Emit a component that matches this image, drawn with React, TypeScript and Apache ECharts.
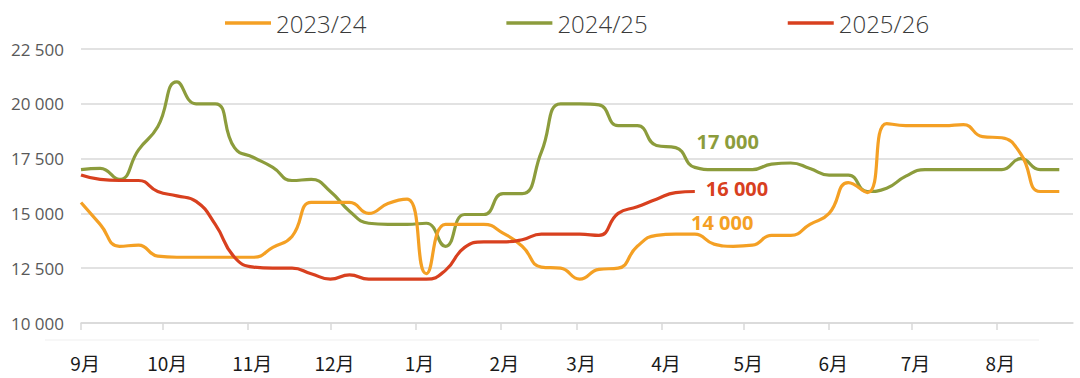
import React, { useEffect, useRef } from "react";
import * as echarts from "echarts";

// Month labels and the day offset (from 1 Sep) of each month start
const monthLabels = ["9月", "10月", "11月", "12月", "1月", "2月", "3月", "4月", "5月", "6月", "7月", "8月"];
const monthStartDays = [0, 30, 61, 91, 122, 153, 181, 212, 242, 273, 303, 334];
const axisEndDay = 362;
const weekStepDays = 7;

const seriesNames = ["2023/24", "2024/25", "2025/26"];
const seriesColors = ["#F4A024", "#8C9C3C", "#D8401F"];

// Weekly values (one point per week, starting 1 Sep)
const values2023 = [
  15500, 14500, 13500, 13550, 13050, 13000, 13000, 13000, 13000, 13000,
  13450, 13950, 15500, 15500, 15500, 15000, 15450, 15650, 12250, 14500,
  14500, 14500, 14100, 13500, 12550, 12500, 12000, 12450, 12500, 13500,
  14000, 14050, 14050, 13600, 13500, 13550, 14000, 14000, 14500, 15000,
  16400, 15950, 19100, 19000, 19000, 19000, 19050, 18500, 18450, 17700,
  16000, 16000,
];
const values2024 = [
  17000, 17050, 16550, 17900, 18950, 21000, 20000, 20000, 18000, 17550,
  17100, 16500, 16550, 16000, 15100, 14550, 14500, 14500, 14550, 13500,
  14950, 14950, 15900, 15900, 17800, 20000, 20000, 19950, 19000, 19000,
  18100, 18000, 17100, 17000, 17000, 17000, 17250, 17300, 17050, 16750,
  16750, 16000, 16150, 16700, 17000, 17000, 17000, 17000, 17000, 17500,
  17000, 17000,
];
const values2025 = [
  16750, 16550, 16500, 16500, 16000, 15800, 15550, 14500, 13000, 12550,
  12500, 12500, 12250, 12000, 12200, 12000, 12000, 12000, 12000, 12400,
  13450, 13700, 13700, 13800, 14050, 14050, 14050, 14000, 15000, 15300,
  15650, 15950, 16000,
];

// Y axis
const yMin = 10000;
const yMax = 22500;
const yInterval = 2500;

// Callout annotations (series index, day, value)
const annotationSeries = [1, 0];
const annotationDays = [236, 234];
const annotationValues = [17000, 14000];
const annotationOffsets = [-28, -13];

const fmt = (v: number) => String(Math.round(v)).replace(/\B(?=(\d{3})+(?!\d))/g, " ");

const allValues = [values2023, values2024, values2025];

export default function App() {
  const ref = useRef<HTMLDivElement>(null);

  useEffect(() => {
    if (!ref.current) return;
    const chart = echarts.init(ref.current, undefined, { renderer: "svg" });

    const series: any[] = allValues.map((vals, si) => {
      const s: any = {
        name: seriesNames[si],
        type: "line",
        data: vals.map((v, i) => [i * weekStepDays, v]),
        smooth: 0.5,
        showSymbol: false,
        symbol: "none",
        lineStyle: { width: 3.2, color: seriesColors[si] },
        itemStyle: { color: seriesColors[si] },
        z: si === 2 ? 5 : si === 1 ? 3 : 4,
      };
      const annIdx = annotationSeries.indexOf(si);
      if (annIdx >= 0) {
        s.markPoint = {
          symbol: "circle",
          symbolSize: 1,
          itemStyle: { color: "rgba(0,0,0,0)" },
          silent: true,
          data: [
            {
              coord: [annotationDays[annIdx], annotationValues[annIdx]],
              value: annotationValues[annIdx],
              label: {
                show: true,
                position: "inside",
                offset: [0, annotationOffsets[annIdx]],
                formatter: () => fmt(annotationValues[annIdx]),
                color: seriesColors[si],
                fontFamily: "Open Sans",
                fontWeight: "bold",
                fontSize: 20,
              },
            },
          ],
        };
      }
      if (si === 2) {
        s.endLabel = {
          show: true,
          formatter: (p: any) => fmt(p.value[1]),
          color: seriesColors[si],
          fontFamily: "Open Sans",
          fontWeight: "bold",
          fontSize: 20,
          distance: 11,
          offset: [0, -3],
        };
      }
      return s;
    });

    chart.setOption({
      animation: false,
      backgroundColor: "#ffffff",
      legend: {
        data: seriesNames,
        left: 220,
        top: 6,
        icon: "rect",
        itemWidth: 46,
        itemHeight: 3.5,
        itemGap: 140,
        textStyle: {
          fontFamily: "Open Sans",
          fontSize: 24,
          fontWeight: 300,
          color: "#3a3a3a",
          padding: [0, 0, 0, 0],
        },
      },
      grid: { left: 81, right: 7, top: 49, bottom: 55 },
      xAxis: {
        type: "value",
        min: 0,
        max: axisEndDay,
        splitLine: { show: false },
        axisLine: { show: true, lineStyle: { color: "#d9d9d9", width: 1.5 } },
        axisTick: {
          show: true,
          length: 7,
          lineStyle: { color: "#d9d9d9", width: 1.5 },
          customValues: monthStartDays,
        },
        axisLabel: {
          customValues: monthStartDays.map((d) => d + 1.5),
          formatter: (v: number) => {
            const idx = monthStartDays.findIndex((d) => Math.abs(d + 1.5 - v) < 0.01);
            return idx >= 0 ? monthLabels[idx] : "";
          },
          fontFamily: "Noto Sans CJK SC",
          fontSize: 19,
          color: "#1a1a1a",
          margin: 30,
        },
      },
      yAxis: {
        type: "value",
        min: yMin,
        max: yMax,
        interval: yInterval,
        axisLine: { show: false },
        axisTick: { show: false },
        splitLine: { lineStyle: { color: "#d9d9d9", width: 1.5 } },
        axisLabel: {
          formatter: (v: number) => fmt(v),
          fontFamily: "Open Sans",
          fontSize: 17,
          color: "#595959",
          margin: 17,
        },
      },
      graphic: [
        {
          type: "line",
          shape: { x1: 45, y1: 340, x2: 1039, y2: 340 },
          style: { stroke: "#efefef", lineWidth: 1 },
          silent: true,
        },
      ],
      series,
    });

    return () => chart.dispose();
  }, []);

  return (
    <div
      ref={ref}
      style={{ position: "fixed", left: 0, top: 0, width: 1080, height: 378 }}
    />
  );
}
